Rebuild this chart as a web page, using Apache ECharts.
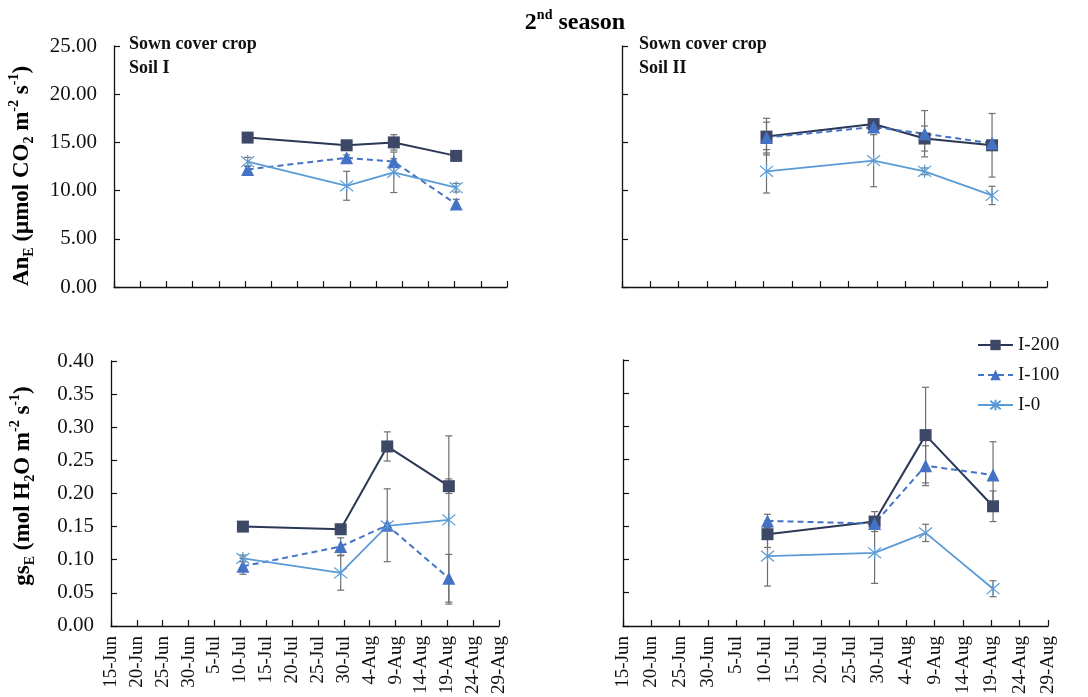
<!DOCTYPE html>
<html>
<head>
<meta charset="utf-8">
<script src="https://cdn.jsdelivr.net/npm/echarts@6/dist/echarts.min.js"></script>
<style>
  html, body { margin: 0; padding: 0; background: #ffffff; }
  #chart { width: 1088px; height: 697px; }
</style>
</head>
<body>
<div id="chart"></div>
<script>
// Date axis: 5-day ticks starting 15-Jun; positions are days after 15-Jun
const tickLabels = ['15-Jun', '20-Jun', '25-Jun', '30-Jun', '5-Jul', '10-Jul', '15-Jul', '20-Jul',
  '25-Jul', '30-Jul', '4-Aug', '9-Aug', '14-Aug', '19-Aug', '24-Aug', '29-Aug'];
const sampleDays = [25.5, 44.4, 53.4, 65.3];

const seriesNames = ['I-200', 'I-100', 'I-0'];

// Net assimilation, An_E (µmol CO2 m-2 s-1) — Soil I
const anSoil1_I200 = [15.5, 14.7, 15.0, 13.6];
const anSoil1_I100 = [12.2, 13.4, 13.0, 8.6];
const anSoil1_I0 = [13.0, 10.5, 11.9, 10.3];
const anSoil1_I200_err = [0.2, 0.3, 0.8, 0.2];
const anSoil1_I100_err = [0.3, 0.3, 0.3, 0.5];
const anSoil1_I0_err = [0.45, 1.5, 2.1, 0.45];

// Net assimilation — Soil II
const anSoil2_I200 = [15.6, 16.9, 15.4, 14.7];
const anSoil2_I100 = [15.5, 16.6, 15.9, 14.9];
const anSoil2_I0 = [12.0, 13.1, 12.0, 9.5];
const anSoil2_I200_err = [1.9, 0.3, 1.3, 3.3];
const anSoil2_I100_err = [1.6, 0.4, 2.4, 0.3];
const anSoil2_I0_err = [2.25, 2.7, 0.35, 0.95];

// Stomatal conductance, gs_E (mol H2O m-2 s-1) — Soil I
const gsSoil1_I200 = [0.150, 0.146, 0.271, 0.211];
const gsSoil1_I100 = [0.090, 0.120, 0.152, 0.072];
const gsSoil1_I0 = [0.102, 0.080, 0.151, 0.160];
const gsSoil1_I200_err = [0.006, 0.005, 0.022, 0.011];
const gsSoil1_I100_err = [0.012, 0.013, 0.055, 0.036];
const gsSoil1_I0_err = [0.005, 0.026, 0.004, 0.127];

// Stomatal conductance — Soil II
const gsSoil2_I200 = [0.138, 0.157, 0.287, 0.180];
const gsSoil2_I100 = [0.158, 0.154, 0.241, 0.227];
const gsSoil2_I0 = [0.105, 0.110, 0.140, 0.056];
const gsSoil2_I200_err = [0.020, 0.015, 0.072, 0.023];
const gsSoil2_I100_err = [0.010, 0.005, 0.030, 0.050];
const gsSoil2_I0_err = [0.045, 0.046, 0.013, 0.012];

const SERIF = '"Liberation Serif", "DejaVu Serif", serif';
const AXIS_COLOR = '#111111';
const ERR_COLOR = '#6f6f6f';

const styles = {
  'I-200': {
    line: { color: '#2b3757', width: 2, type: 'solid' },
    symbol: 'rect', symbolSize: 12,
    item: { color: '#3c4866' }
  },
  'I-100': {
    line: { color: '#4472c4', width: 2, type: [6, 4] },
    symbol: 'triangle', symbolSize: 13,
    item: { color: '#4472c4' }
  },
  'I-0': {
    line: { color: '#5b9bd5', width: 1.8, type: 'solid' },
    symbol: 'path://M0,0L10,10M10,0L0,10M5,-1L5,11', symbolSize: 13,
    item: { color: 'rgba(0,0,0,0)', borderColor: '#5b9bd5', borderWidth: 1.2 }
  }
};

const panels = [
  { grid: { left: 114, top: 46, width: 393, height: 241 }, kind: 'an', labels: false, yLabels: true,
    vals: [anSoil1_I200, anSoil1_I100, anSoil1_I0], errs: [anSoil1_I200_err, anSoil1_I100_err, anSoil1_I0_err] },
  { grid: { left: 622, top: 46, width: 425, height: 241 }, kind: 'an', labels: false, yLabels: false,
    vals: [anSoil2_I200, anSoil2_I100, anSoil2_I0], errs: [anSoil2_I200_err, anSoil2_I100_err, anSoil2_I0_err] },
  { grid: { left: 111, top: 361, width: 388, height: 265 }, kind: 'gs', labels: true, yLabels: true,
    vals: [gsSoil1_I200, gsSoil1_I100, gsSoil1_I0], errs: [gsSoil1_I200_err, gsSoil1_I100_err, gsSoil1_I0_err] },
  { grid: { left: 623, top: 360, width: 425, height: 269 }, kind: 'gs', labels: true, yLabels: false,
    vals: [gsSoil2_I200, gsSoil2_I100, gsSoil2_I0], errs: [gsSoil2_I200_err, gsSoil2_I100_err, gsSoil2_I0_err] }
];

function errorBarRender(params, api) {
  const x = api.value(0);
  const lo = api.coord([x, api.value(1)]);
  const hi = api.coord([x, api.value(2)]);
  const half = 3.5;
  const st = { stroke: ERR_COLOR, lineWidth: 1.2 };
  return {
    type: 'group',
    children: [
      { type: 'line', shape: { x1: hi[0], y1: hi[1], x2: lo[0], y2: lo[1] }, style: st },
      { type: 'line', shape: { x1: hi[0] - half, y1: hi[1], x2: hi[0] + half, y2: hi[1] }, style: st },
      { type: 'line', shape: { x1: lo[0] - half, y1: lo[1], x2: lo[0] + half, y2: lo[1] }, style: st }
    ]
  };
}

const grids = [], xAxes = [], yAxes = [], series = [];

panels.forEach((p, i) => {
  grids.push(p.grid);
  xAxes.push({
    type: 'value', gridIndex: i, min: 0, max: 75, interval: 5,
    axisLine: { lineStyle: { color: AXIS_COLOR, width: 1.3 } },
    axisTick: { show: true, inside: true, length: 6, lineStyle: { color: AXIS_COLOR, width: 1.2 } },
    splitLine: { show: false },
    axisLabel: {
      show: p.labels, rotate: 90, margin: 10, showMinLabel: true, showMaxLabel: true,
      color: '#111', fontFamily: SERIF, fontSize: 19,
      formatter: v => tickLabels[Math.round(v / 5)]
    }
  });
  const isAn = p.kind === 'an';
  yAxes.push({
    type: 'value', gridIndex: i, min: 0, max: isAn ? 25 : 0.4, interval: isAn ? 5 : 0.05,
    axisLine: { show: true, lineStyle: { color: AXIS_COLOR, width: 1.3 } },
    axisTick: { show: true, inside: true, length: 6, lineStyle: { color: AXIS_COLOR, width: 1.2 } },
    splitLine: { show: false },
    axisLabel: {
      show: p.yLabels, margin: 17, color: '#111', fontFamily: SERIF, fontSize: 21,
      formatter: v => v.toFixed(2)
    }
  });
  seriesNames.forEach((name, k) => {
    const vals = p.vals[k], errs = p.errs[k];
    series.push({
      type: 'custom', xAxisIndex: i, yAxisIndex: i, z: 1, silent: true,
      renderItem: errorBarRender,
      encode: { x: 0, y: [1, 2] },
      data: vals.map((v, j) => [sampleDays[j], v - errs[j], v + errs[j]])
    });
  });
  seriesNames.forEach((name, k) => {
    const s = styles[name];
    series.push({
      name: name, type: 'line', xAxisIndex: i, yAxisIndex: i, z: 3,
      symbol: s.symbol, symbolSize: s.symbolSize, showAllSymbol: true,
      lineStyle: s.line, itemStyle: s.item,
      data: p.vals[k].map((v, j) => [sampleDays[j], v])
    });
  });
});

const boldRich = {
  b: { fontFamily: SERIF, fontWeight: 'bold', fontSize: 23, lineHeight: 29, color: '#111' },
  sub: { fontFamily: SERIF, fontWeight: 'bold', fontSize: 14, lineHeight: 14, verticalAlign: 'bottom', color: '#111' },
  sup: { fontFamily: SERIF, fontWeight: 'bold', fontSize: 14, lineHeight: 14, verticalAlign: 'top', color: '#111' }
};

const panelTextStyle = { fontFamily: SERIF, fontWeight: 'bold', fontSize: 18, fill: '#111' };

const graphics = [
  {
    type: 'text', x: 575, y: 23,
    style: {
      text: '{b|2}{sup|nd}{b| season}', align: 'center', verticalAlign: 'middle',
      rich: {
        b: { fontFamily: SERIF, fontWeight: 'bold', fontSize: 24, lineHeight: 29, color: '#111' },
        sup: { fontFamily: SERIF, fontWeight: 'bold', fontSize: 14, lineHeight: 14, verticalAlign: 'top', color: '#111' }
      }
    }
  },
  {
    type: 'text', x: 22, y: 176, rotation: Math.PI / 2,
    style: {
      text: '{b|An}{sub|E}{b| (μmol CO}{sub|2}{b| m}{sup|-2}{b| s}{sup|-1}{b|)}',
      align: 'center', verticalAlign: 'middle', rich: boldRich
    }
  },
  {
    type: 'text', x: 23, y: 486, rotation: Math.PI / 2,
    style: {
      text: '{b|gs}{sub|E}{b| (mol H}{sub|2}{b|O m}{sup|-2}{b| s}{sup|-1}{b|)}',
      align: 'center', verticalAlign: 'middle', rich: boldRich
    }
  },
  { type: 'text', x: 129, y: 44, style: Object.assign({ text: 'Sown cover crop', verticalAlign: 'middle' }, panelTextStyle) },
  { type: 'text', x: 129, y: 68, style: Object.assign({ text: 'Soil I', verticalAlign: 'middle' }, panelTextStyle) },
  { type: 'text', x: 639, y: 44, style: Object.assign({ text: 'Sown cover crop', verticalAlign: 'middle' }, panelTextStyle) },
  { type: 'text', x: 639, y: 68, style: Object.assign({ text: 'Soil II', verticalAlign: 'middle' }, panelTextStyle) }
];

const chart = echarts.init(document.getElementById('chart'), null, { renderer: 'canvas' });
chart.setOption({
  animation: false,
  backgroundColor: '#ffffff',
  grid: grids,
  xAxis: xAxes,
  yAxis: yAxes,
  legend: {
    data: seriesNames, orient: 'vertical', left: 972, top: 330,
    itemWidth: 35, itemHeight: 13, itemGap: 10,
    textStyle: { fontFamily: SERIF, fontSize: 19, color: '#111', lineHeight: 20 },
    selectedMode: false
  },
  graphic: graphics,
  series: series
});
</script>
</body>
</html>
